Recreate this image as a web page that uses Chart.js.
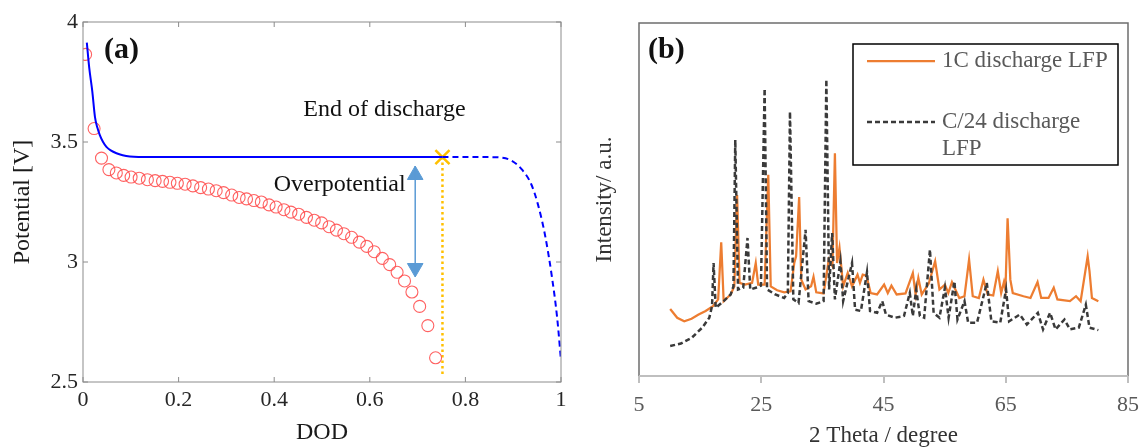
<!DOCTYPE html>
<html>
<head>
<meta charset="utf-8">
<title>LFP discharge curve and XRD</title>
<script src="https://cdn.jsdelivr.net/npm/chart.js@4.4.1/dist/chart.umd.min.js"></script>
<style>
  body { margin: 0; width: 1148px; height: 447px; overflow: hidden; background: #fff; }
  #panelA { position: absolute; left: 0; top: 0; }
  #panelB { position: absolute; left: 580px; top: 0; }
</style>
</head>
<body>
<canvas id="panelA" width="580" height="447"></canvas>
<canvas id="panelB" width="568" height="450"></canvas>
<script>
// ---- panel (a): potential vs depth of discharge ----
// model curve, solid part (up to end of discharge)
const dodModel = [0.008, 0.013, 0.0195, 0.025, 0.030, 0.035, 0.042, 0.049, 0.058, 0.070, 0.083, 0.098, 0.14, 0.752];
const vModel = [3.914, 3.81, 3.71, 3.605, 3.56, 3.53, 3.50, 3.48, 3.465, 3.453, 3.445, 3.44, 3.437, 3.437];
// model curve, dashed part (after end of discharge)
const dodModelRest = [0.752, 0.80, 0.85, 0.875, 0.896, 0.917, 0.938, 0.952, 0.967, 0.981, 0.992, 1.0];
const vModelRest = [3.437, 3.437, 3.437, 3.435, 3.423, 3.388, 3.323, 3.238, 3.108, 2.938, 2.767, 2.59];
// measured points (red circles)
const dodMeasured = [0.0054, 0.0232, 0.0387, 0.0542, 0.0697, 0.0851, 0.1006, 0.1176, 0.1347, 0.1509,
  0.1664, 0.1819, 0.1974, 0.2136, 0.2299, 0.2461, 0.2624, 0.2786, 0.2941, 0.3111,
  0.3266, 0.3421, 0.3576, 0.3731, 0.3893, 0.4040, 0.4203, 0.4350, 0.4512, 0.4675,
  0.4837, 0.4992, 0.5147, 0.5302, 0.5457, 0.5619, 0.5782, 0.5937, 0.6091, 0.6262,
  0.6416, 0.6571, 0.6726, 0.6881, 0.7043, 0.7214, 0.7376];
const vMeasured = [3.865, 3.556, 3.433, 3.385, 3.371, 3.361, 3.354, 3.349, 3.343, 3.339,
  3.336, 3.332, 3.328, 3.324, 3.317, 3.310, 3.304, 3.297, 3.289, 3.279,
  3.269, 3.263, 3.256, 3.250, 3.238, 3.229, 3.218, 3.208, 3.199, 3.186,
  3.174, 3.163, 3.147, 3.133, 3.118, 3.103, 3.083, 3.065, 3.043, 3.015,
  2.989, 2.957, 2.921, 2.875, 2.815, 2.735, 2.601];
// end of discharge marker and overpotential arrow
const dodEnd = 0.752;
const vEnd = 3.437;
const vEndFoot = 2.53;
const dodArrow = 0.695;
const vArrow = [3.40, 2.94];
const vArrowHeads = [3.3625, 2.975];

// ---- panel (b): XRD patterns ----
const thetaFast = [10.1, 11.25, 12.4, 13.6, 14.75, 15.9, 17.1, 17.95, 18.45, 18.85,
  20.0, 20.6, 21.05, 21.45, 22.35, 23.5, 24.1, 24.5, 25.55, 26.15,
  26.55, 27.6, 28.75, 29.8, 30.4, 30.7, 31.2, 31.55, 32.25, 33.15,
  33.55, 34.0, 35.2, 36.05, 36.65, 37.05, 37.4, 37.8, 38.4, 39.15,
  39.85, 40.75, 41.15, 41.6, 42.2, 42.9, 43.95, 45.1, 45.7, 46.3,
  47.15, 48.6, 49.8, 50.25, 50.7, 51.25, 52.4, 53.45, 54.15, 55.05,
  55.6, 56.2, 57.4, 58.25, 59.0, 59.6, 60.6, 61.35, 62.05, 62.95,
  63.7, 64.25, 64.7, 64.95, 65.3, 65.75, 66.15, 67.9, 69.05, 70.2,
  70.8, 72.0, 72.85, 73.45, 75.5, 76.5, 77.25, 78.4, 78.7, 79.1, 80.15];
const intFast = [19.0, 16.5, 15.5, 16.2, 17.4, 18.4, 19.8, 21.7, 37.9, 21.2,
  23.1, 25.4, 51.3, 26.4, 25.9, 26.4, 32.0, 25.9, 25.9, 57.0,
  25.4, 24.3, 23.7, 24.0, 32.0, 33.9, 50.7, 27.3, 24.5, 25.4,
  28.1, 23.7, 23.4, 33.0, 31.1, 63.1, 32.0, 36.3, 25.4, 29.2,
  25.4, 28.7, 26.4, 28.7, 28.4, 23.5, 23.1, 25.9, 23.5, 25.6,
  23.1, 23.4, 29.2, 23.1, 27.8, 23.1, 26.2, 32.5, 24.5, 25.9,
  23.5, 26.6, 22.1, 22.6, 33.0, 22.6, 22.1, 27.3, 23.1, 22.8,
  29.7, 23.5, 26.6, 24.5, 44.7, 27.3, 23.5, 22.6, 22.1, 26.6,
  22.1, 22.1, 25.0, 21.7, 21.2, 22.6, 21.2, 33.9, 29.7, 22.1, 21.2];
const thetaSlow = [10.1, 11.85, 13.6, 15.35, 16.5, 16.95, 17.2, 17.55, 18.85, 20.0,
  20.45, 20.75, 21.2, 22.05, 22.75, 23.2, 24.1, 24.95, 25.55, 25.95,
  27.3, 28.75, 29.35, 29.7, 30.25, 31.1, 32.25, 32.75, 34.0, 35.2,
  35.65, 36.1, 36.6, 37.05, 37.95, 38.4, 39.85, 40.35, 41.3, 42.3,
  42.8, 43.95, 44.8, 45.4, 46.85, 48.35, 49.3, 49.8, 50.35, 50.95,
  51.65, 52.6, 53.2, 54.15, 55.05, 55.65, 56.6, 57.1, 58.25, 58.85,
  60.3, 61.9, 62.65, 64.1, 65.05, 65.55, 67.3, 68.45, 70.25, 71.1,
  72.25, 73.15, 74.6, 75.5, 76.95, 78.1, 78.7, 80.15];
const intSlow = [8.5, 9.2, 10.8, 13.7, 16.5, 19.8, 32.0, 19.3, 21.2, 23.1,
  25.4, 66.9, 24.5, 25.0, 39.1, 24.5, 25.0, 25.6, 81.4, 24.5,
  23.1, 22.1, 23.5, 74.9, 21.7, 20.7, 41.4, 21.2, 20.5, 21.2,
  84.0, 24.5, 40.5, 21.7, 32.5, 21.2, 32.0, 18.8, 18.4, 29.4,
  18.4, 17.9, 21.2, 17.4, 16.5, 17.0, 23.5, 17.0, 24.5, 17.0,
  16.5, 35.8, 17.9, 16.5, 25.0, 16.5, 26.8, 16.0, 21.2, 15.1,
  15.1, 26.4, 15.5, 15.1, 24.5, 15.5, 17.4, 14.6, 17.9, 13.2,
  17.9, 13.2, 16.0, 13.2, 13.7, 20.2, 13.7, 13.0];

const SERIF = '"Liberation Serif", "Times New Roman", serif';
Chart.defaults.font.family = SERIF;

const toPoints = (xs, ys) => xs.map((x, i) => ({ x: x, y: ys[i] }));
// matlab style tick text: "3" not "3.0", "1" not "1.0"
const plainNumber = (v) => String(parseFloat(Number(v).toFixed(2)));

// box around the plot area, optionally with inward ticks (matlab look)
function framePlugin(color, width, innerTicks) {
  return {
    id: "frame",
    afterDatasetsDraw(chart) {
      const { ctx, chartArea: a, scales } = chart;
      ctx.save();
      ctx.strokeStyle = color;
      ctx.lineWidth = width;
      ctx.strokeRect(a.left, a.top, a.right - a.left, a.bottom - a.top);
      if (innerTicks) {
        ctx.beginPath();
        scales.x.ticks.forEach((t) => {
          const px = scales.x.getPixelForValue(t.value);
          ctx.moveTo(px, a.bottom);
          ctx.lineTo(px, a.bottom - 5);
          ctx.moveTo(px, a.top);
          ctx.lineTo(px, a.top + 5);
        });
        scales.y.ticks.forEach((t) => {
          const py = scales.y.getPixelForValue(t.value);
          ctx.moveTo(a.left, py);
          ctx.lineTo(a.left + 5, py);
          ctx.moveTo(a.right, py);
          ctx.lineTo(a.right - 5, py);
        });
        ctx.stroke();
      }
      ctx.restore();
    },
  };
}

//text notes on panel (a)
const notesA = {
  id: "notesA",
  afterDraw(chart) {
    const { ctx, scales } = chart;
    ctx.save();
    ctx.fillStyle = "#111";
    ctx.textBaseline = "middle";
    ctx.textAlign = "left";
    ctx.font = "bold 30px " + SERIF;
    ctx.fillText("(a)", 104, 50);
    ctx.font = "24px " + SERIF;
    ctx.fillText("End of discharge", scales.x.getPixelForValue(0.461), scales.y.getPixelForValue(3.633));
    ctx.fillText("Overpotential", scales.x.getPixelForValue(0.399), scales.y.getPixelForValue(3.321));
    ctx.restore();
  },
};

// legend box + panel label for (b)
const legendB = {
  id: "legendB",
  afterDraw(chart) {
    const ctx = chart.ctx;
    const [fast, slow] = chart.data.datasets;
    ctx.save();
    ctx.fillStyle = "#111";
    ctx.textBaseline = "middle";
    ctx.font = "bold 30px " + SERIF;
    ctx.fillText("(b)", 68, 50);

    ctx.fillStyle = "#fff";
    ctx.fillRect(273, 44, 265, 121);
    ctx.strokeStyle = "#000";
    ctx.lineWidth = 1.5;
    ctx.strokeRect(273, 44, 265, 121);

    [[fast, 61], [slow, 122]].forEach(([ds, y]) => {
      ctx.beginPath();
      ctx.strokeStyle = ds.borderColor;
      ctx.lineWidth = ds.borderWidth;
      ctx.setLineDash(ds.borderDash || []);
      ctx.moveTo(287, y);
      ctx.lineTo(355, y);
      ctx.stroke();
    });
    ctx.setLineDash([]);
    ctx.fillStyle = "#595959";
    ctx.font = "23px " + SERIF;
    ctx.fillText("1C discharge LFP", 362, 61);
    ctx.fillText("C/24 discharge", 362, 122);
    ctx.fillText("LFP", 362, 149);
    ctx.restore();
  },
};

// plot area edges of (b): light bottom axis, darker box elsewhere
const frameB = {
  id: "frameB",
  afterDatasetsDraw(chart) {
    const { ctx, chartArea: a } = chart;
    ctx.save();
    ctx.strokeStyle = "#6e6e6e";
    ctx.lineWidth = 1.5;
    ctx.beginPath();
    ctx.moveTo(a.left, a.bottom);
    ctx.lineTo(a.left, a.top);
    ctx.lineTo(a.right, a.top);
    ctx.lineTo(a.right, a.bottom);
    ctx.stroke();
    ctx.strokeStyle = "#bfbfbf";
    ctx.lineWidth = 2;
    ctx.beginPath();
    ctx.moveTo(a.left, a.bottom);
    ctx.lineTo(a.right, a.bottom);
    ctx.stroke();
    ctx.restore();
  },
};

new Chart(document.getElementById("panelA"), {
  type: "scatter",
  data: {
    datasets: [
      {
        data: toPoints(dodModel, vModel),
        showLine: true,
        borderColor: "#0000ff",
        borderWidth: 2,
        pointRadius: 0,
        cubicInterpolationMode: "monotone",
      },
      {
        data: toPoints(dodModelRest, vModelRest),
        showLine: true,
        borderColor: "#0000ff",
        borderWidth: 2,
        borderDash: [6, 4],
        pointRadius: 0,
        cubicInterpolationMode: "monotone",
      },
      {
        data: toPoints(dodMeasured, vMeasured),
        pointStyle: "circle",
        pointRadius: 6,
        pointBorderWidth: 1.1,
        borderColor: "rgba(255, 80, 80, 0.9)",
        backgroundColor: "rgba(0,0,0,0)",
      },
      {
        data: toPoints([dodEnd, dodEnd], [vEnd, vEndFoot]),
        showLine: true,
        borderColor: "#ffc000",
        borderWidth: 2.5,
        borderDash: [2.5, 3],
        pointRadius: 0,
      },
      {
        data: toPoints([dodEnd], [vEnd]),
        pointStyle: "crossRot",
        pointRadius: 10,
        pointBorderWidth: 2.5,
        borderColor: "#ffc000",
      },
      {
        data: toPoints([dodArrow, dodArrow], vArrow),
        showLine: true,
        borderColor: "#5b9bd5",
        borderWidth: 1.5,
        pointRadius: 0,
      },
      {
        data: toPoints([dodArrow, dodArrow], vArrowHeads),
        pointStyle: "triangle",
        pointRotation: [0, 180],
        pointRadius: 9,
        borderColor: "#5b9bd5",
        backgroundColor: "#5b9bd5",
      },
    ],
  },
  options: {
    responsive: false,
    animation: false,
    events: [],
    layout: { padding: { top: 22, right: 19, left: 0, bottom: 0 } },
    plugins: { legend: { display: false }, tooltip: { enabled: false } },
    scales: {
      x: {
        type: "linear",
        min: 0,
        max: 1,
        ticks: { stepSize: 0.2, padding: 5, maxRotation: 0, color: "#262626", font: { size: 22 }, callback: plainNumber },
        grid: { display: false, drawTicks: false },
        border: { display: false },
        title: { display: true, text: "DOD", color: "#1a1a1a", font: { size: 24 }, padding: 0 },
        afterFit: (s) => { s.height = 65; },
      },
      y: {
        min: 2.5,
        max: 4,
        ticks: { stepSize: 0.5, padding: 5, color: "#262626", font: { size: 22 }, callback: plainNumber },
        grid: { display: false, drawTicks: false },
        border: { display: false },
        title: { display: true, text: "Potential [V]", color: "#1a1a1a", font: { size: 24 }, padding: { top: 8, bottom: 0 } },
        afterFit: (s) => { s.width = 83; },
      },
    },
  },
  plugins: [framePlugin("#8c8c8c", 1, true), notesA],
});

new Chart(document.getElementById("panelB"), {
  type: "scatter",
  data: {
    datasets: [
      {
        label: "1C discharge LFP",
        data: toPoints(thetaFast, intFast),
        showLine: true,
        borderColor: "#ed7d31",
        borderWidth: 2.25,
        pointRadius: 0,
        order: 2,
      },
      {
        label: "C/24 discharge LFP",
        data: toPoints(thetaSlow, intSlow),
        showLine: true,
        borderColor: "#3a3a3a",
        borderWidth: 2.5,
        borderDash: [5, 3],
        pointRadius: 0,
        order: 1,
      },
    ],
  },
  options: {
    responsive: false,
    animation: false,
    events: [],
    layout: { padding: { top: 23, right: 13, left: 0, bottom: 0 } },
    plugins: { legend: { display: false }, tooltip: { enabled: false } },
    scales: {
      x: {
        type: "linear",
        min: 5,
        max: 85,
        ticks: { stepSize: 20, padding: 9, maxRotation: 0, color: "#595959", font: { size: 22 } },
        grid: { display: true, drawOnChartArea: false, drawTicks: true, tickLength: 7, color: "#bfbfbf", lineWidth: 2 },
        border: { display: false },
        title: { display: true, text: "2 Theta / degree", color: "#333", font: { size: 23 }, padding: 0 },
        afterFit: (s) => { s.height = 74; },
      },
      y: {
        min: 0,
        max: 100,
        ticks: { display: false },
        grid: { display: false, drawTicks: false },
        border: { display: false },
        title: { display: true, text: "Intensity/ a.u.", color: "#333", font: { size: 23 }, padding: { top: 11, bottom: 0 } },
        afterFit: (s) => { s.width = 59; },
      },
    },
  },
  plugins: [frameB, legendB],
});
</script>
</body>
</html>
